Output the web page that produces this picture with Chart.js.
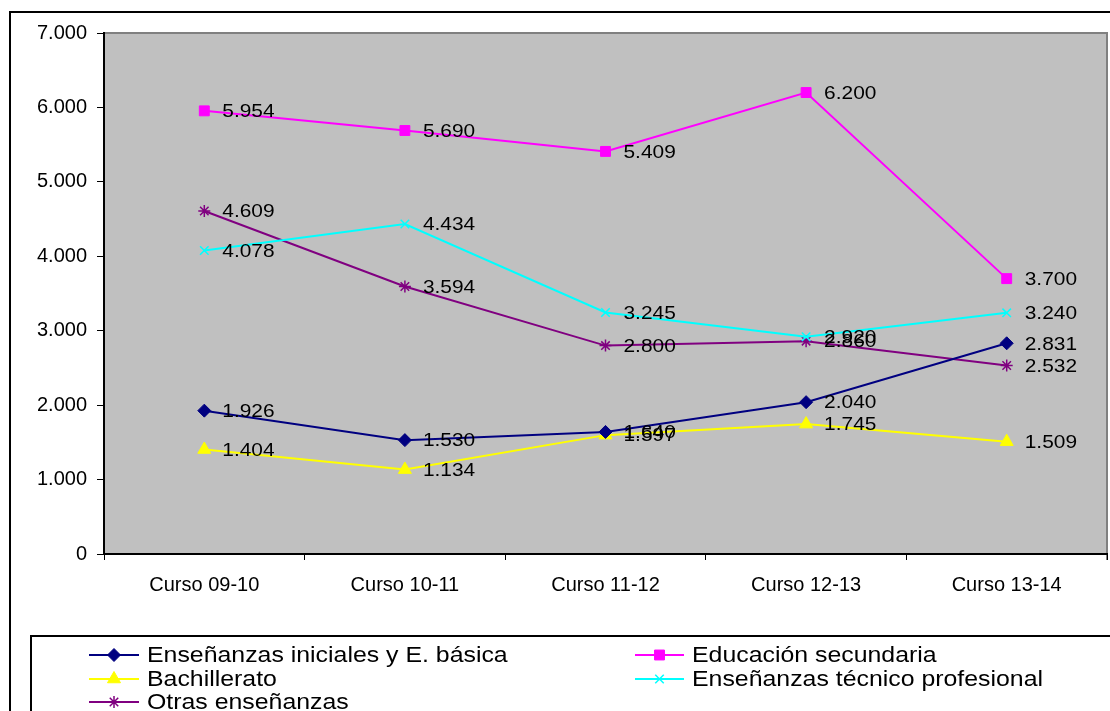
<!DOCTYPE html>
<html><head><meta charset="utf-8">
<script src="https://cdn.jsdelivr.net/npm/chart.js@4.4.0/dist/chart.umd.min.js"></script>
<style>html,body{margin:0;padding:0;background:#fff;overflow:hidden;}canvas{display:block;}</style>
</head><body>
<canvas id="c" width="1110" height="711"></canvas>
<script>
const categories = ['Curso 09-10', 'Curso 10-11', 'Curso 11-12', 'Curso 12-13', 'Curso 13-14'];
const basica     = [1926, 1530, 1640, 2040, 2831];
const secundaria = [5954, 5690, 5409, 6200, 3700];
const bachillerato = [1404, 1134, 1597, 1745, 1509];
const tecnico    = [4078, 4434, 3245, 2920, 3240];
const otras      = [4609, 3594, 2800, 2860, 2532];
const seriesNames = ['Enseñanzas iniciales y E. básica', 'Educación secundaria', 'Bachillerato', 'Enseñanzas técnico profesional', 'Otras enseñanzas'];
const yMin = 0, yMax = 7000, yStep = 1000;

const FONT = '"Liberation Sans", Arial, sans-serif';
const fmt = v => v === 0 ? '0' : (v / 1000).toFixed(3);

function ds(label, data, color, style, radius, bw) {
  return {
    label, data, borderColor: color, backgroundColor: color,
    borderWidth: 2, pointStyle: style, pointRadius: radius, pointHoverRadius: radius,
    pointBorderWidth: bw, pointBackgroundColor: color, pointBorderColor: color, tension: 0
  };
}

const framePlugin = {
  id: 'frame',
  beforeDraw(chart) {
    const ctx = chart.ctx, a = chart.chartArea;
    ctx.save();
    ctx.fillStyle = '#fff';
    ctx.fillRect(0, 0, chart.width, chart.height);
    ctx.lineWidth = 2; ctx.strokeStyle = '#000';
    ctx.strokeRect(10, 12, 1300, 900);
    ctx.fillStyle = '#C0C0C0';
    ctx.fillRect(a.left, a.top, a.right - a.left, a.bottom - a.top);
    ctx.strokeStyle = '#808080'; ctx.lineWidth = 2;
    ctx.beginPath();
    ctx.moveTo(a.left, a.top); ctx.lineTo(a.right, a.top); ctx.lineTo(a.right, a.bottom + 6);
    ctx.stroke();
    ctx.restore();
  },
  afterDatasetsDraw(chart) {
    const ctx = chart.ctx;
    ctx.save();
    ctx.font = '19px ' + FONT; ctx.fillStyle = '#000';
    ctx.textBaseline = 'middle'; ctx.textAlign = 'left';
    chart.data.datasets.forEach((d, i) => {
      chart.getDatasetMeta(i).data.forEach((pt, j) => {
        ctx.save();
        ctx.translate(pt.x + 18, pt.y + 1);
        ctx.scale(1.1, 1);
        ctx.fillText(fmt(d.data[j]), 0, 0);
        ctx.restore();
      });
    });
    ctx.restore();
  },
  afterDraw(chart) {
    const ctx = chart.ctx;
    ctx.save();
    ctx.lineWidth = 2; ctx.strokeStyle = '#000';
    ctx.strokeRect(31, 636, 1300, 300);
    const pos = [
      [89, 139, 655], [635, 684, 655],
      [89, 139, 679], [635, 684, 679],
      [89, 139, 702]
    ];
    chart.data.datasets.forEach((d, i) => {
      const [x0, x1, y] = pos[i];
      ctx.strokeStyle = d.borderColor; ctx.fillStyle = d.backgroundColor;
      ctx.lineWidth = 2;
      ctx.beginPath(); ctx.moveTo(x0, y); ctx.lineTo(x1, y); ctx.stroke();
      ctx.lineWidth = d.pointBorderWidth;
      Chart.helpers.drawPoint(ctx, { pointStyle: d.pointStyle, radius: d.pointRadius, rotation: 0, borderWidth: d.pointBorderWidth }, (x0 + x1) / 2, y);
      ctx.fillStyle = '#000';
      ctx.font = '22px ' + FONT; ctx.textBaseline = 'middle'; ctx.textAlign = 'left';
      ctx.save(); ctx.translate(x1 + 8, y + 1); ctx.scale(1.13, 1);
      ctx.fillText(d.label, 0, 0);
      ctx.restore();
    });
    ctx.restore();
  }
};

new Chart(document.getElementById('c'), {
  type: 'line',
  data: {
    labels: categories,
    datasets: [
      ds(seriesNames[0], basica, '#000080', 'rectRot', 6.5, 1),
      ds(seriesNames[1], secundaria, '#FF00FF', 'rect', 7, 1),
      ds(seriesNames[2], bachillerato, '#FFFF00', 'triangle', 7.5, 1),
      ds(seriesNames[3], tecnico, '#00FFFF', 'crossRot', 6, 1.5),
      ds(seriesNames[4], otras, '#800080', 'star', 6, 1.5)
    ]
  },
  options: {
    responsive: false, animation: false, devicePixelRatio: 1,
    layout: { autoPadding: false, padding: { top: 33, right: 3, left: 0, bottom: 0 } },
    plugins: { legend: { display: false }, tooltip: { enabled: false } },
    scales: {
      x: {
        offset: true,
        grid: { display: true, offset: true, drawOnChartArea: false, tickLength: 6, color: '#000', lineWidth: 1 },
        border: { display: true, color: '#000', width: 2 },
        ticks: { color: '#000', font: { family: FONT, size: 20 }, padding: 13, maxRotation: 0, autoSkip: false },
        afterFit(s) { s.height = 157; s.paddingRight = 0; s.paddingLeft = 0; }
      },
      y: {
        min: yMin, max: yMax,
        grid: { display: true, drawOnChartArea: false, tickLength: 7, color: '#000', lineWidth: 1 },
        border: { display: true, color: '#000', width: 2 },
        ticks: { stepSize: yStep, color: '#000', font: { family: FONT, size: 20 }, padding: 10, callback: v => fmt(v) },
        afterFit(s) { s.width = 104; }
      }
    }
  },
  plugins: [framePlugin]
});
</script>
</body></html>
